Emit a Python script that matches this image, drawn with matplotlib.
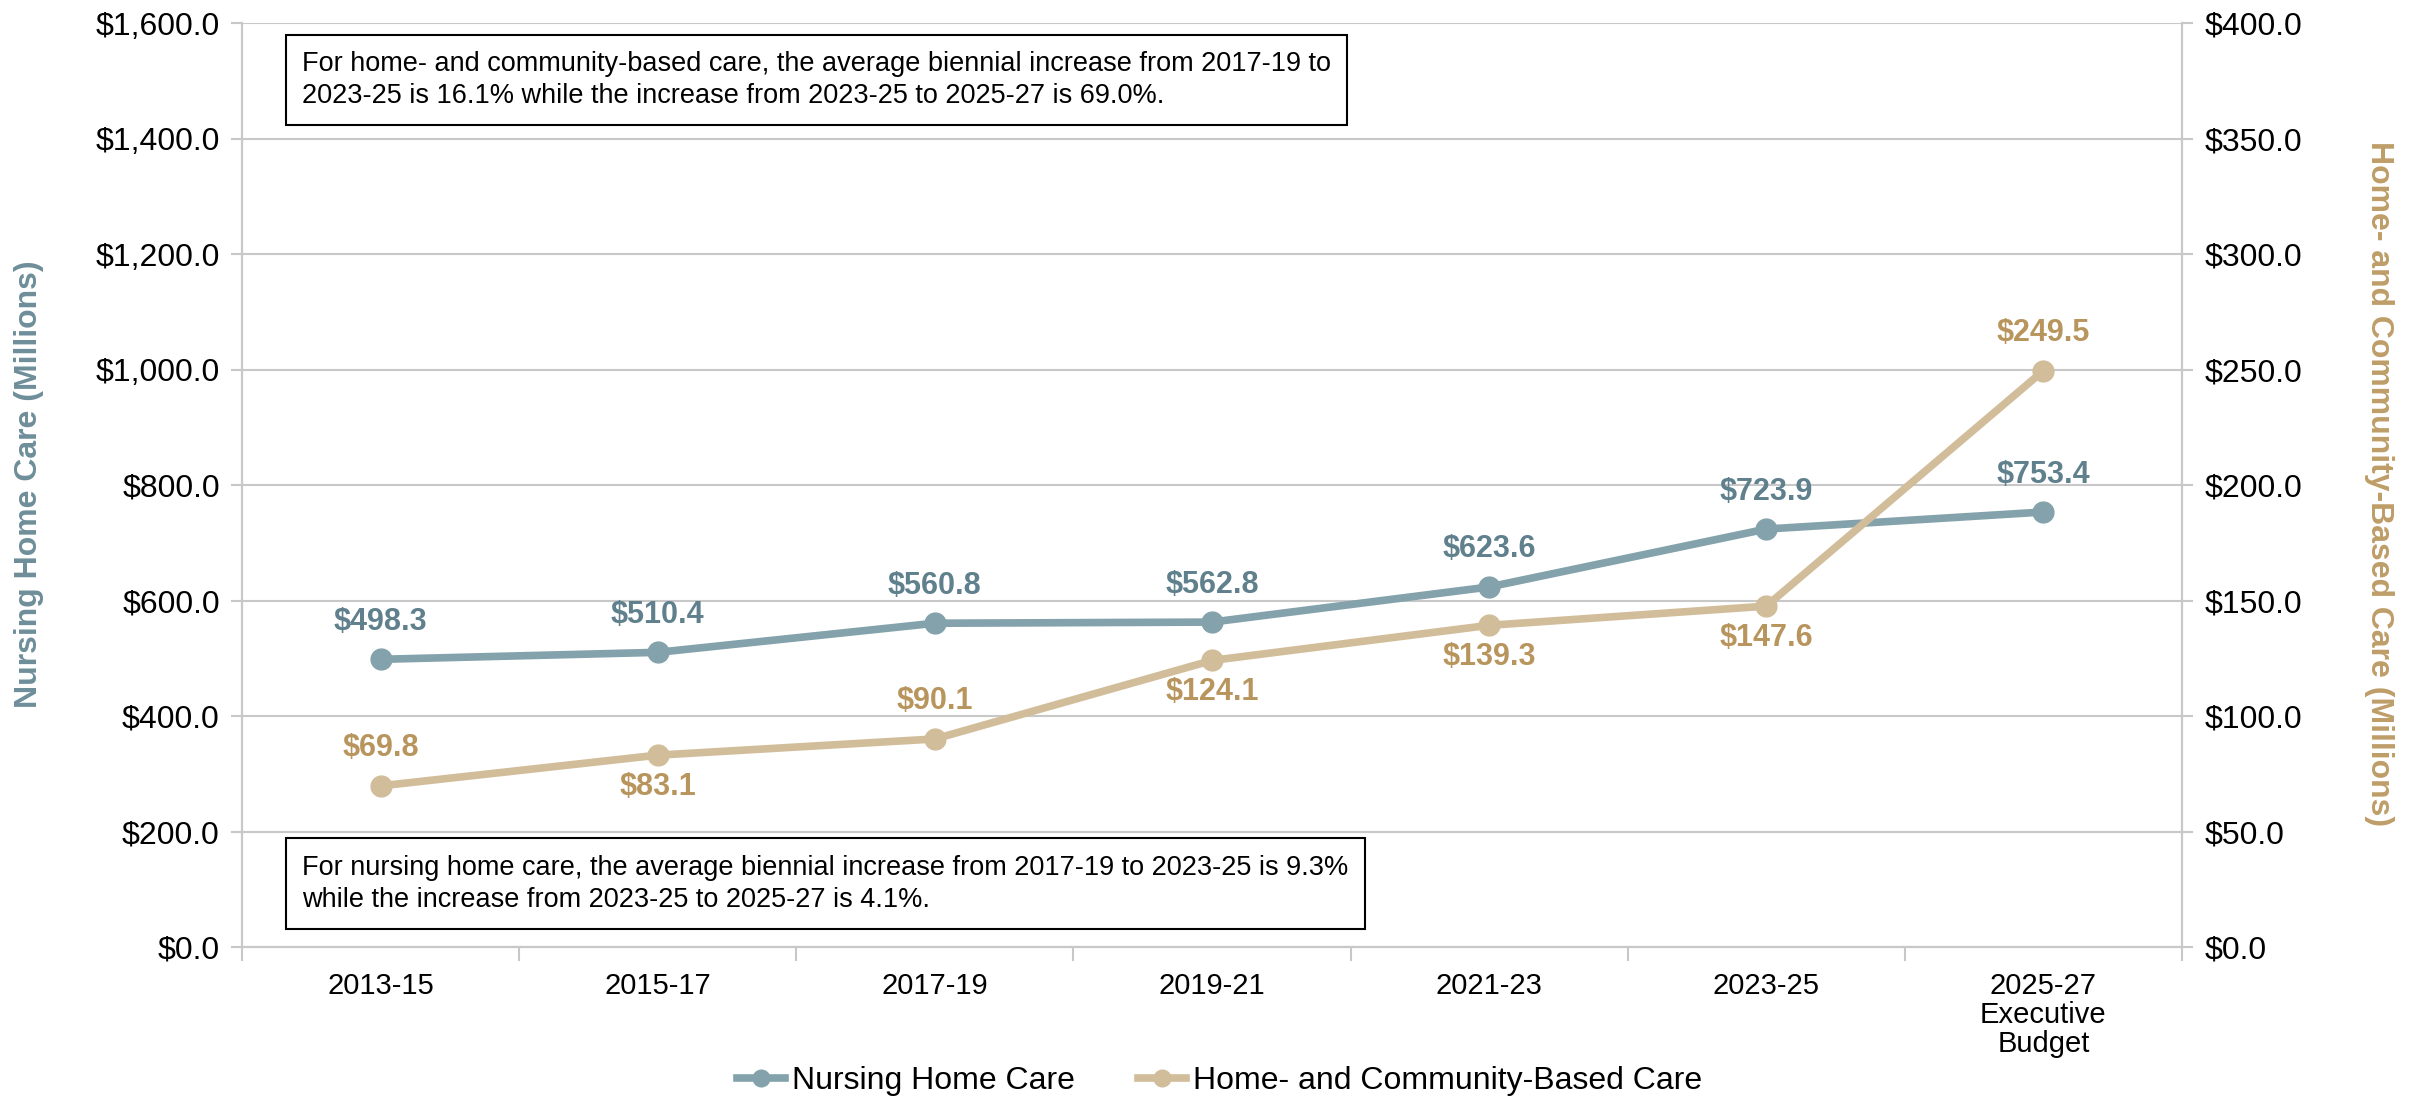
import numpy as np
import matplotlib.pyplot as plt
from matplotlib.ticker import FuncFormatter, FixedLocator

plt.rcParams['font.family'] = ['Liberation Sans', 'DejaVu Sans']

# Data
periods = ['2013-15', '2015-17', '2017-19', '2019-21', '2021-23', '2023-25',
           '2025-27\nExecutive\nBudget']
nursing = [498.3, 510.4, 560.8, 562.8, 623.6, 723.9, 753.4]
hcbc = [69.8, 83.1, 90.1, 124.1, 139.3, 147.6, 249.5]
# label placement for the home/community series (True = above the point)
hcbc_above = [True, False, True, False, False, False, True]

nh_line = '#84A2AB'
nh_text = '#5F808C'
hc_line = '#D2BD9B'
hc_text = '#B9955E'
grid_col = '#C8C8C8'

fig = plt.figure(figsize=(24.15, 11), dpi=100)
ax = fig.add_axes([0.1002, 0.139, 0.8033, 0.840])
ax2 = ax.twinx()

x = np.arange(len(periods))

ax.plot(x, nursing, '-o', color=nh_line, lw=5.5, markersize=15, zorder=3,
        label='Nursing Home Care')
ax2.plot(x, hcbc, '-o', color=hc_line, lw=5.5, markersize=15, zorder=3,
         label='Home- and Community-Based Care')

# data labels
for xi, v in zip(x, nursing):
    ax.annotate(f'${v:,.1f}', (xi, v), xytext=(0, 27), textcoords='offset points',
                ha='center', va='center', fontsize=22, fontweight='bold', color=nh_text)
for xi, v, up in zip(x, hcbc, hcbc_above):
    off = 27 if up else -23
    ax2.annotate(f'${v:,.1f}', (xi, v), xytext=(0, off), textcoords='offset points',
                 ha='center', va='center', fontsize=22, fontweight='bold', color=hc_text)

# axes
ax.set_xlim(-0.5, len(periods) - 0.5)
ax.set_ylim(0, 1600)
ax2.set_ylim(0, 400)
ax.set_yticks(np.arange(0, 1601, 200))
ax2.set_yticks(np.arange(0, 401, 50))
ax.yaxis.set_major_formatter(FuncFormatter(lambda v, p: f'${v:,.1f}'))
ax2.yaxis.set_major_formatter(FuncFormatter(lambda v, p: f'${v:,.1f}'))
ax.set_xticks(x)
ax.set_xticklabels(periods, fontsize=21, linespacing=1.05)
ax.xaxis.set_minor_locator(FixedLocator(np.arange(-0.5, len(periods), 1.0)))
ax.tick_params(axis='x', which='major', length=0, pad=18)
ax.tick_params(axis='x', which='minor', length=10, color=grid_col, width=1.5)
ax.tick_params(axis='y', length=8, color=grid_col, width=1.5, labelsize=23, pad=8)
ax2.tick_params(axis='y', length=8, color=grid_col, width=1.5, labelsize=23, pad=8)

ax.grid(axis='y', color=grid_col, lw=1.5)
ax.set_axisbelow(True)
for a in (ax, ax2):
    a.spines['top'].set_visible(False)
    for s in ('left', 'right', 'bottom'):
        a.spines[s].set_color(grid_col)
        a.spines[s].set_linewidth(1.5)

fig.text(0.012, 0.56, 'Nursing Home Care (Millions)', rotation=90, ha='center',
         va='center', fontsize=23, fontweight='bold', color='#6E8E99')
fig.text(0.985, 0.56, 'Home- and Community-Based Care (Millions)', rotation=270,
         ha='center', va='center', fontsize=23, fontweight='bold', color='#BE9D68')

# note boxes
box = dict(boxstyle='square,pad=0.6', facecolor='white', edgecolor='black', lw=1.5)
ax.text(0.031, 0.970,
        'For home- and community-based care, the average biennial increase from 2017-19 to\n'
        '2023-25 is 16.1% while the increase from 2023-25 to 2025-27 is 69.0%.',
        transform=ax.transAxes, ha='left', va='top', fontsize=19.5, bbox=box,
        linespacing=1.3, zorder=5)
ax.text(0.031, 0.100,
        'For nursing home care, the average biennial increase from 2017-19 to 2023-25 is 9.3%\n'
        'while the increase from 2023-25 to 2025-27 is 4.1%.',
        transform=ax.transAxes, ha='left', va='top', fontsize=19.5, bbox=box,
        linespacing=1.3, zorder=5)

h1, l1 = ax.get_legend_handles_labels()
h2, l2 = ax2.get_legend_handles_labels()
fig.legend(h1 + h2, l1 + l2, loc='center', bbox_to_anchor=(0.505, 0.017), ncol=2,
           frameon=False, fontsize=23, handlelength=1.5, handletextpad=0.2,
           columnspacing=2.0, markerscale=0.8)

fig.savefig('out.png', dpi=100)
